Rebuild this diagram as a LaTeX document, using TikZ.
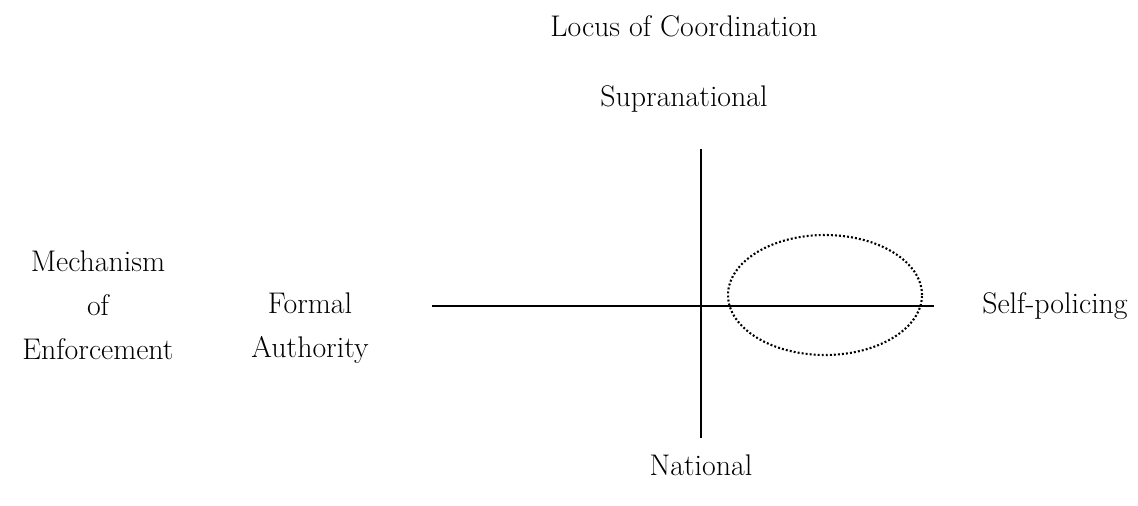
\documentclass[tikz,border=0pt]{standalone}
\usepackage{tikz}
\usetikzlibrary{shapes.geometric}

\begin{document}
\begin{tikzpicture}[x=0.02cm, y=-0.02cm,
    every node/.style={font=\fontsize{17}{25}\selectfont, align=center},
    axis/.style={line width=1.1pt},
    zone/.style={ellipse, draw, line width=1.2pt, dash pattern=on 1.1pt off 1.2pt, minimum width=3.88cm, minimum height=2.4cm}]
      \useasboundingbox (0,0) rectangle (1138,506);
      \node (locus) at (684,26) {Locus of Coordination};
      \node (supra) at (684,99) {Supranational};
      \node (national) at (701,465) {National};
      \node (mech) at (98,305) {Mechanism\\of\\Enforcement};
      \node (formal) at (310,328) {Formal\\Authority};
      \node (self) at (1055,306) {Self-policing};

      \coordinate (top) at (701,149);
      \coordinate (bottom) at (701,438);
      \coordinate (left) at (432,306);
      \coordinate (right) at (934,306);
      \draw[axis] (top) -- (bottom);
      \draw[axis] (left) -- (right);

      \node[zone] (cluster) at (825,295) {};
    \end{tikzpicture}
\end{document}
